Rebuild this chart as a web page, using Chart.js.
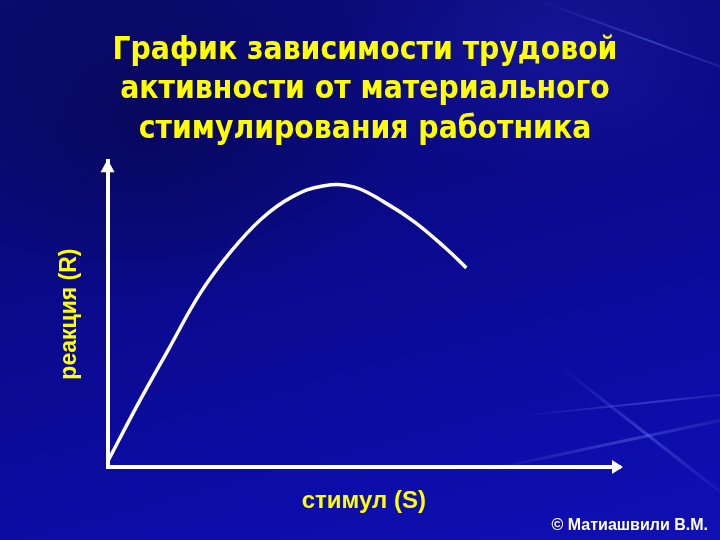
<!DOCTYPE html>
<html>
<head>
<meta charset="utf-8">
<script src="https://cdn.jsdelivr.net/npm/chart.js@4"></script>
<style>
  html, body { margin: 0; padding: 0; }
  body {
    width: 720px; height: 540px; overflow: hidden; position: relative;
    background:
      radial-gradient(ellipse 380px 260px at 150px 120px, rgba(5,5,60,0.5), rgba(5,5,60,0) 70%),
      radial-gradient(ellipse 300px 200px at 560px 40px, rgba(40,40,190,0.35), rgba(40,40,190,0) 70%),
      linear-gradient(165deg, #0b0b72 0%, #0a0a88 40%, #0c0ca6 75%, #1010b4 100%);
  }
  .streak { position: absolute; height: 3px; background: linear-gradient(90deg, rgba(120,140,255,0), rgba(120,140,255,0.35), rgba(120,140,255,0)); transform-origin: left center; }
  canvas { position: absolute; left: 0; top: 0; }
</style>
</head>
<body>
<div class="streak" style="left:480px;top:470px;width:300px;transform:rotate(-12deg)"></div>
<div class="streak" style="left:560px;top:365px;width:220px;transform:rotate(38deg)"></div>
<div class="streak" style="left:520px;top:415px;width:260px;transform:rotate(-6deg);height:2px"></div>
<div class="streak" style="left:540px;top:0px;width:240px;transform:rotate(20deg);height:2px"></div>
<canvas id="chart" width="720" height="540"></canvas>
<script>
// curve (stimulus S vs reaction R, axis units 0..100)
var stimulus = [0, 6, 12, 18, 24, 30, 36, 42, 48, 54, 60, 66, 70];
var reaction = [1.7, 20.8, 38.8, 56.6, 70.3, 81.1, 88.3, 91.9, 91.6, 86.6, 80.0, 71.5, 65.1];

var titleLines = ['График зависимости трудовой', 'активности от материального', 'стимулирования работника'];
var xLabel = 'стимул (S)';
var yLabel = 'реакция (R)';
var credit = '© Матиашвили В.М.';

var points = stimulus.map(function (s, i) { return {x: s, y: reaction[i]}; });

// arrow heads at the open ends of both axes
var arrows = {
    id: 'arrows',
    afterDraw: function (chart) {
        var ctx = chart.ctx, a = chart.chartArea;
        ctx.save();
        ctx.fillStyle = '#ffffff';
        ctx.beginPath();
        ctx.moveTo(a.left, a.top - 2);
        ctx.lineTo(a.left - 7, a.top + 11);
        ctx.lineTo(a.left + 7, a.top + 11);
        ctx.closePath();
        ctx.fill();
        ctx.beginPath();
        ctx.moveTo(a.right + 3, a.bottom);
        ctx.lineTo(a.right - 8, a.bottom - 7);
        ctx.lineTo(a.right - 8, a.bottom + 7);
        ctx.closePath();
        ctx.fill();
        ctx.restore();
    }
};

var yellow = '#ffff00';
var labelFont = "'Liberation Sans', Arial, sans-serif";

new Chart(document.getElementById('chart'), {
    type: 'scatter',
    data: {
        datasets: [{
            data: points,
            showLine: true,
            borderColor: '#ffffff',
            borderWidth: 3.5,
            pointRadius: 0,
            tension: 0.4,
            fill: false
        }]
    },
    options: {
        responsive: false,
        animation: false,
        devicePixelRatio: 1,
        layout: {
            autoPadding: false,
            padding: {left: 22, right: 12, top: 0, bottom: 0}
        },
        plugins: {
            legend: {display: false},
            tooltip: {enabled: false},
            title: {
                display: true,
                text: titleLines,
                color: yellow,
                font: {family: "'DejaVu Sans Condensed', 'Liberation Sans', sans-serif", size: 31.5, weight: 'bold', lineHeight: 1.25},
                padding: {top: 31, bottom: 12}
            },
            subtitle: {
                display: true,
                position: 'bottom',
                align: 'end',
                text: credit,
                color: '#ffffff',
                font: {family: labelFont, size: 16, weight: 'bold'},
                padding: {top: 0, bottom: 5}
            }
        },
        scales: {
            x: {
                type: 'linear',
                min: 0,
                max: 100,
                ticks: {display: false},
                grid: {display: false, drawTicks: false},
                border: {display: true, color: '#ffffff', width: 4},
                title: {
                    display: true,
                    text: xLabel,
                    color: yellow,
                    font: {family: labelFont, size: 24, weight: 'bold', lineHeight: 1.2},
                    padding: {top: 20, bottom: 0}
                }
            },
            y: {
                type: 'linear',
                min: 0,
                max: 100,
                ticks: {display: false},
                grid: {display: false, drawTicks: false},
                border: {display: true, color: '#ffffff', width: 4},
                title: {
                    display: true,
                    text: yLabel,
                    color: yellow,
                    font: {family: labelFont, size: 23, weight: 'bold', lineHeight: 1.2},
                    padding: {top: 34, bottom: 24}
                }
            },
            // empty right-hand axis that only reserves the margin right of the arrow
            gap: {
                type: 'linear',
                position: 'right',
                ticks: {display: false},
                grid: {display: false, drawTicks: false},
                border: {display: false},
                title: {
                    display: true,
                    text: ' ',
                    color: 'rgba(0,0,0,0)',
                    font: {size: 10, lineHeight: 1},
                    padding: {top: 39, bottom: 39}
                }
            }
        }
    },
    plugins: [arrows]
});
</script>
</body>
</html>
